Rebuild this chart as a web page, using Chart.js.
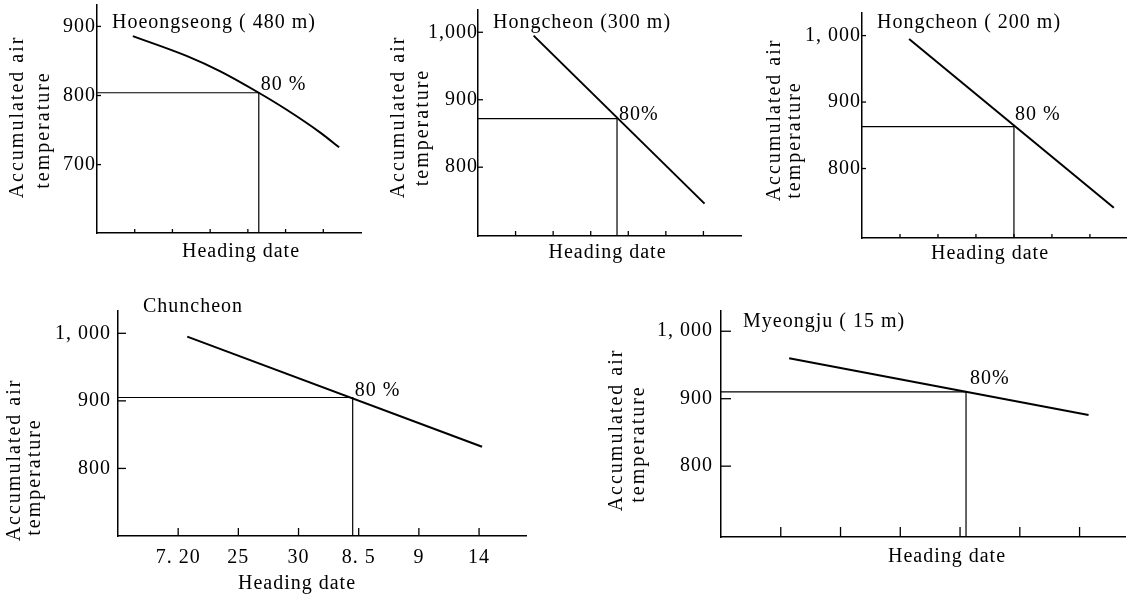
<!DOCTYPE html>
<html lang="en">
<head>
<meta charset="utf-8">
<title>Accumulated air temperature and heading date</title>
<script src="https://cdn.jsdelivr.net/npm/chart.js@4.4.1/dist/chart.umd.min.js"></script>
<style>
    html, body { margin: 0; padding: 0; background: #fff; }
    body { position: relative; width: 1133px; height: 596px; overflow: hidden; }
    .panel { position: absolute; }
    .panel canvas { display: block; }
</style>
</head>
<body>
<div class="panel"><canvas id="grafico1"></canvas></div>
<div class="panel"><canvas id="grafico2"></canvas></div>
<div class="panel"><canvas id="grafico3"></canvas></div>
<div class="panel"><canvas id="grafico4"></canvas></div>
<div class="panel"><canvas id="grafico5"></canvas></div>
<script>
// ========== DATOS ==========

// Marcas del eje X (fechas de espigado)
const ticksX = [1, 2, 3, 4, 5, 6];
const etiquetasXVacias = ['', '', '', '', '', ''];
const etiquetasXChuncheon = ['7. 20', '25', '30', '8. 5', '9', '14'];

// Títulos de los ejes
const tituloX = 'Heading date';
const tituloY = ['Accumulated air', 'temperature'];

// Hoeongseong (480 m)
const hoeongseongX = [0.95, 2.39, 3.27, 4.29, 5.04, 5.93, 6.42];
const hoeongseongY = [886, 857, 835, 804, 779, 746, 725];
const hoeongseong80 = [4.29, 804];
const hoeongseongTicksY = [700, 800, 900];
const hoeongseongEtiquetasY = ['700', '800', '900'];

// Hongcheon (300 m)
const hongcheon300X = [1.48, 6.03];
const hongcheon300Y = [995, 746];
const hongcheon300_80 = [3.70, 872];
const hongcheon300TicksY = [800, 900, 1000];
const hongcheon300EtiquetasY = ['800', '900', '1,000'];

// Hongcheon (200 m)
const hongcheon200X = [1.24, 6.63];
const hongcheon200Y = [995, 741];
const hongcheon200_80 = [4.0, 863];
const hongcheon200TicksY = [800, 900, 1000];
const hongcheon200EtiquetasY = ['800', '900', '1, 000'];

// Chuncheon
const chuncheonX = [1.15, 6.05];
const chuncheonY = [995, 832];
const chuncheon80 = [3.90, 905];
const chuncheonTicksY = [800, 900, 1000];
const chuncheonEtiquetasY = ['800', '900', '1, 000'];

// Myeongju (15 m)
const myeongjuX = [1.14, 6.15];
const myeongjuY = [960, 876];
const myeongju80 = [4.10, 910];
const myeongjuTicksY = [800, 900, 1000];
const myeongjuEtiquetasY = ['800', '900', '1, 000'];

// ========== ESTILO ==========
const FAMILIA = '"Liberation Serif", "Times New Roman", serif';
const TAMANO = 20;
const ESPACIADO = '1px';
const ESPACIADO_Y = '2px';
const MARGEN_SUP = 30;
const MARGEN_DER = 8;

Chart.defaults.color = '#000';
Chart.defaults.font.family = FAMILIA;
Chart.defaults.font.size = TAMANO;

// Posición de cada panel en la página (ejes en px) y desplazamiento de los textos
const paneles = [
    { id: 'grafico1', nombre: 'Hoeongseong ( 480 m)', etiqueta80: '80 %',
      x: hoeongseongX, y: hoeongseongY, p80: hoeongseong80,
      ticksY: hoeongseongTicksY, etiquetasY: hoeongseongEtiquetasY, etiquetasX: etiquetasXVacias,
      ejeX: 97, ejeArriba: 5, ejeAbajo: 233, ejeDerecha: 361,
      yMin: 601, yMax: 931, xMax: 7, tension: 0.4,
      anchoY: 92, altoX: 36, largoTick: 4, padY: 1, padX: 10,
      nombreDx: 15, nombreDy: 23, etDx: 2, etDy: -3,
      tituloXDx: 12, tituloXDy: 19,
      lineasY: [[-79, -2], [-53, 11]] },
    { id: 'grafico2', nombre: 'Hongcheon (300 m)', etiqueta80: '80%',
      x: hongcheon300X, y: hongcheon300Y, p80: hongcheon300_80,
      ticksY: hongcheon300TicksY, etiquetasY: hongcheon300EtiquetasY, etiquetasX: etiquetasXVacias,
      ejeX: 478, ejeArriba: 10, ejeAbajo: 236, ejeDerecha: 741,
      yMin: 698, yMax: 1033, xMax: 7, tension: 0,
      anchoY: 91, altoX: 34, largoTick: 5, padY: 0, padX: 10,
      nombreDx: 15, nombreDy: 18, etDx: 2, etDy: 1,
      tituloXDx: -2, tituloXDy: 17,
      lineasY: [[-79, -6], [-55.5, 4.5]] },
    { id: 'grafico3', nombre: 'Hongcheon ( 200 m)', etiqueta80: '80 %',
      x: hongcheon200X, y: hongcheon200Y, p80: hongcheon200_80,
      ticksY: hongcheon200TicksY, etiquetasY: hongcheon200EtiquetasY, etiquetasX: etiquetasXVacias,
      ejeX: 862, ejeArriba: 13, ejeAbajo: 238, ejeDerecha: 1126,
      yMin: 695.5, yMax: 1034, xMax: 6.95, tension: 0,
      anchoY: 98, altoX: 34, largoTick: 4, padY: 1, padX: 10,
      nombreDx: 15, nombreDy: 15, etDx: 1, etDy: -7,
      tituloXDx: -4, tituloXDy: 16,
      lineasY: [[-87.5, -5.5], [-67.5, 14.5]] },
    { id: 'grafico4', nombre: 'Chuncheon', etiqueta80: '80 %',
      x: chuncheonX, y: chuncheonY, p80: chuncheon80,
      ticksY: chuncheonTicksY, etiquetasY: chuncheonEtiquetasY, etiquetasX: etiquetasXChuncheon,
      ejeX: 118, ejeArriba: 311, ejeAbajo: 536, ejeDerecha: 526,
      yMin: 700, yMax: 1033, xMax: 6.78, tension: 0,
      anchoY: 116, altoX: 62, largoTick: 8, padY: 7, padX: 10,
      nombreDx: 25, nombreDy: 1, etDx: 2, etDy: -1,
      tituloXDx: -25, tituloXDy: 48,
      lineasY: [[-103, 36.5], [-83, 53.5]] },
    { id: 'grafico5', nombre: 'Myeongju ( 15 m)', etiqueta80: '80%',
      x: myeongjuX, y: myeongjuY, p80: myeongju80,
      ticksY: myeongjuTicksY, etiquetasY: myeongjuEtiquetasY, etiquetasX: etiquetasXVacias,
      ejeX: 721, ejeArriba: 311, ejeAbajo: 537, ejeDerecha: 1125,
      yMin: 695, yMax: 1030, xMax: 6.76, tension: 0,
      anchoY: 118, altoX: 36, largoTick: 10, padY: 8, padX: 10,
      nombreDx: 22, nombreDy: 16, etDx: 4, etDy: -8,
      tituloXDx: 24, tituloXDy: 19.5,
      lineasY: [[-104.5, 6], [-82, 20]] }
];

// Plugin: marcas hacia dentro, títulos de ejes, nombre de la estación y rótulo del 80 %
function pluginAnotaciones(cfg) {
    return {
        id: 'anotaciones',
        beforeUpdate(chart) { chart.ctx.letterSpacing = ESPACIADO; },
        beforeDraw(chart) { chart.ctx.letterSpacing = ESPACIADO; },
        afterDatasetsDraw(chart) {
            const { ctx, chartArea, scales: { x, y } } = chart;
            const centroX = (chartArea.left + chartArea.right) / 2;
            const centroY = (chartArea.top + chartArea.bottom) / 2;

            ctx.save();
            ctx.strokeStyle = '#000';
            ctx.lineWidth = 1.3;
            x.ticks.forEach(t => {
                const px = x.getPixelForValue(t.value);
                ctx.beginPath();
                ctx.moveTo(px, chartArea.bottom);
                ctx.lineTo(px, chartArea.bottom - cfg.largoTick);
                ctx.stroke();
            });
            y.ticks.forEach(t => {
                const py = y.getPixelForValue(t.value);
                ctx.beginPath();
                ctx.moveTo(chartArea.left, py);
                ctx.lineTo(chartArea.left + cfg.largoTick, py);
                ctx.stroke();
            });

            ctx.fillStyle = '#000';
            ctx.font = TAMANO + 'px ' + FAMILIA;
            ctx.letterSpacing = ESPACIADO;
            ctx.textAlign = 'left';
            ctx.textBaseline = 'alphabetic';
            ctx.fillText(cfg.nombre, chartArea.left + cfg.nombreDx, chartArea.top + cfg.nombreDy);
            ctx.fillText(cfg.etiqueta80,
                x.getPixelForValue(cfg.p80[0]) + cfg.etDx,
                y.getPixelForValue(cfg.p80[1]) + cfg.etDy);

            // Título del eje X
            ctx.textAlign = 'center';
            ctx.textBaseline = 'middle';
            ctx.fillText(tituloX, centroX + cfg.tituloXDx, chartArea.bottom + cfg.tituloXDy);

            // Título del eje Y (dos líneas giradas)
            ctx.letterSpacing = ESPACIADO_Y;
            tituloY.forEach((linea, i) => {
                const [dx, dy] = cfg.lineasY[i];
                ctx.save();
                ctx.translate(chartArea.left + dx, centroY + dy);
                ctx.rotate(-Math.PI / 2);
                ctx.fillText(linea, 0, 0);
                ctx.restore();
            });
            ctx.restore();
        }
    };
}

// Función para crear cada panel
function crearPanel(cfg) {
    const canvas = document.getElementById(cfg.id);
    const contenedor = canvas.parentElement;
    const ancho = cfg.anchoY + (cfg.ejeDerecha - cfg.ejeX) + MARGEN_DER;
    const alto = MARGEN_SUP + (cfg.ejeAbajo - cfg.ejeArriba) + cfg.altoX;

    contenedor.style.left = (cfg.ejeX - cfg.anchoY) + 'px';
    contenedor.style.top = (cfg.ejeArriba - MARGEN_SUP) + 'px';
    canvas.width = ancho;
    canvas.height = alto;
    canvas.style.width = ancho + 'px';
    canvas.style.height = alto + 'px';

    const curva = cfg.x.map((v, i) => ({ x: v, y: cfg.y[i] }));
    const guia = [
        { x: 0, y: cfg.p80[1] },
        { x: cfg.p80[0], y: cfg.p80[1] },
        { x: cfg.p80[0], y: cfg.yMin }
    ];

    return new Chart(canvas.getContext('2d'), {
        type: 'scatter',
        data: {
            datasets: [
                { data: guia, showLine: true, borderColor: '#000', borderWidth: 1.2, pointRadius: 0, tension: 0 },
                { data: curva, showLine: true, borderColor: '#000', borderWidth: 2, pointRadius: 0,
                  tension: cfg.tension, cubicInterpolationMode: cfg.tension ? 'monotone' : 'default' }
            ]
        },
        options: {
            responsive: false,
            animation: false,
            devicePixelRatio: 1,
            layout: { padding: { top: MARGEN_SUP, right: MARGEN_DER, left: 0, bottom: 0 } },
            plugins: { legend: { display: false }, tooltip: { enabled: false } },
            scales: {
                x: {
                    type: 'linear',
                    min: 0,
                    max: cfg.xMax,
                    grid: { display: false, drawTicks: false },
                    border: { display: true, color: '#000', width: 1.5 },
                    afterBuildTicks: s => { s.ticks = ticksX.map(v => ({ value: v })); },
                    afterFit: s => { s.height = cfg.altoX; },
                    ticks: {
                        autoSkip: false,
                        maxRotation: 0,
                        padding: cfg.padX,
                        callback: (v, i) => cfg.etiquetasX[i]
                    },
                    title: { display: false }
                },
                y: {
                    type: 'linear',
                    min: cfg.yMin,
                    max: cfg.yMax,
                    grid: { display: false, drawTicks: false },
                    border: { display: true, color: '#000', width: 1.5 },
                    afterBuildTicks: s => { s.ticks = cfg.ticksY.map(v => ({ value: v })); },
                    afterFit: s => { s.width = cfg.anchoY; },
                    ticks: {
                        autoSkip: false,
                        padding: cfg.padY,
                        callback: (v, i) => cfg.etiquetasY[i]
                    },
                    title: { display: false }
                }
            }
        },
        plugins: [pluginAnotaciones(cfg)]
    });
}

paneles.forEach(crearPanel);
</script>
</body>
</html>
